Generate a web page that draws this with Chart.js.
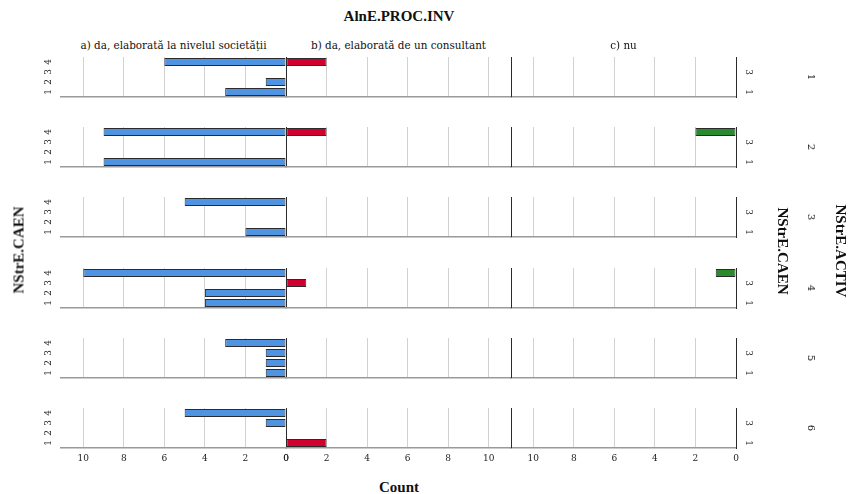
<!DOCTYPE html>
<html>
<head>
<meta charset="utf-8">
<script src="https://cdn.jsdelivr.net/npm/chart.js@4.4.1/dist/chart.umd.min.js"></script>
<style>
  html, body { margin: 0; padding: 0; background: #fff; }
  #wrap { position: relative; width: 848px; height: 494px; overflow: hidden; }
  .row { position: absolute; left: 0; width: 848px; }
  .t { position: absolute; white-space: nowrap; color: #111; line-height: 1; }
  .serif { font-family: "DejaVu Serif", serif; }
  .bold { font-family: "Liberation Serif", "Times New Roman", serif; font-weight: bold; font-size: 15px; }
</style>
</head>
<body>
<div id="wrap"></div>
<script>
// ---- data -------------------------------------------------------------
const chartTitle = 'AlnE.PROC.INV';
const columnLabels = ['a) da, elaborată la nivelul societății', 'b) da, elaborată de un consultant', 'c) nu'];
const rowVariable = 'NStrE.ACTIV';
const categoryVariable = 'NStrE.CAEN';
const valueTitle = 'Count';
const rowLabels = ['1', '2', '3', '4', '5', '6'];          // NStrE.ACTIV
const caenCategories = ['1', '2', '3', '4'];                // NStrE.CAEN
const countTicks = [0, 2, 4, 6, 8, 10];
// counts per NStrE.ACTIV row, in CAEN order 1..4
const countsA = [[3, 1, 0, 6], [9, 0, 0, 9], [2, 0, 0, 5], [4, 4, 0, 10], [1, 1, 1, 3], [0, 0, 1, 5]];
const countsB = [[0, 0, 0, 2], [0, 0, 0, 2], [0, 0, 0, 0], [0, 0, 1, 0], [0, 0, 0, 0], [2, 0, 0, 0]];
const countsC = [[0, 0, 0, 0], [0, 0, 0, 2], [0, 0, 0, 0], [0, 0, 0, 1], [0, 0, 0, 0], [0, 0, 0, 0]];

// ---- layout & style ---------------------------------------------------
const COUNT_MAX = 11.1;
const PLOT_LEFT = 61, PLOT_RIGHT = 736, W = 848;
const ROW_TOPS = [57, 127, 197, 268, 338, 408];
const PANEL_H = 40;
const COLORS = ['#4f93e3', '#d2002e', '#2c8a2e'];
const GRID_LIGHT = '#d2d2d2', DARK = '#2b2b2b', AXIS_GRAY = '#9a9a9a';
const TICK_FONT = { family: 'DejaVu Serif', size: 9 };

const wrap = document.getElementById('wrap');

function addText(txt, cls, x, y, rot, size) {
  const d = document.createElement('div');
  d.className = 't ' + cls;
  d.textContent = txt;
  if (size) d.style.fontSize = size + 'px';
  d.style.left = x + 'px';
  d.style.top = y + 'px';
  d.style.transform = 'translate(-50%, -50%)' + (rot ? ' rotate(' + rot + 'deg)' : '');
  wrap.appendChild(d);
}

// vertical divider between the second and third column
const dividerPlugin = {
  id: 'divider',
  afterDatasetsDraw(chart) {
    const { ctx, chartArea } = chart;
    const x = Math.round(chart.scales.xc.left) + 0.5;
    ctx.save();
    ctx.strokeStyle = DARK;
    ctx.lineWidth = 1;
    ctx.beginPath();
    ctx.moveTo(x, chartArea.top);
    ctx.lineTo(x, chartArea.bottom);
    ctx.stroke();
    ctx.restore();
  }
};

function countAxis(reverse, showTicks) {
  return {
    type: 'linear',
    position: 'bottom',
    stack: 'columns',
    stackWeight: 1,
    reverse: reverse,
    min: 0,
    max: COUNT_MAX,
    afterBuildTicks: s => { s.ticks = countTicks.map(v => ({ value: v })); },
    afterFit: s => { s.height = showTicks ? 22 : 3; s.paddingLeft = 0; s.paddingRight = 0; },
    grid: {
      drawTicks: false,
      color: c => (c.tick && c.tick.value === 0 ? DARK : GRID_LIGHT),
      lineWidth: 1
    },
    border: { display: true, color: AXIS_GRAY, width: 1.5 },
    ticks: { display: showTicks, font: TICK_FONT, color: '#222', padding: 5, maxRotation: 0, autoSkip: false }
  };
}

// category axis shared settings (labels turned sideways)
function caenAxis(position, rotation, width, extra) {
  return Object.assign({
    type: 'category',
    position: position,
    reverse: true,
    afterFit: s => { s.width = width; s.paddingTop = 0; s.paddingBottom = 0; },
    grid: { display: false, drawTicks: false },
    ticks: { font: TICK_FONT, color: '#222', minRotation: rotation, maxRotation: rotation, crossAlign: 'center', padding: 9, autoSkip: false }
  }, extra);
}

function toBars(arr) { return arr.map(v => (v === 0 ? null : v)); }

ROW_TOPS.forEach((top, i) => {
  const last = i === ROW_TOPS.length - 1;
  const padTop = 4;
  const bottomH = last ? 22 : 3;
  const holder = document.createElement('div');
  holder.className = 'row';
  holder.style.top = (top - padTop) + 'px';
  holder.style.height = (padTop + PANEL_H + bottomH) + 'px';
  const cv = document.createElement('canvas');
  holder.appendChild(cv);
  wrap.appendChild(holder);

  const common = {
    barPercentage: 0.82,
    categoryPercentage: 1,
    grouped: false,
    borderColor: DARK,
    borderWidth: 1,
    borderSkipped: false,
    yAxisID: 'y'
  };

  const yRight = caenAxis('right', -90, W - PLOT_RIGHT, { border: { display: true, color: DARK, width: 1 } });
  yRight.ticks.callback = function (v) { const l = this.getLabelForValue(v); return (l === '1' || l === '3') ? l : ''; };

  new Chart(cv, {
    type: 'bar',
    data: {
      labels: caenCategories,
      datasets: [
        Object.assign({ label: columnLabels[0], data: toBars(countsA[i]), backgroundColor: COLORS[0], xAxisID: 'xa' }, common),
        Object.assign({ label: columnLabels[1], data: toBars(countsB[i]), backgroundColor: COLORS[1], xAxisID: 'xb' }, common),
        Object.assign({ label: columnLabels[2], data: toBars(countsC[i]), backgroundColor: COLORS[2], xAxisID: 'xc' }, common)
      ]
    },
    options: {
      indexAxis: 'y',
      responsive: true,
      maintainAspectRatio: false,
      animation: false,
      events: [],
      layout: { padding: { top: padTop, left: 0, right: 0, bottom: 0 } },
      plugins: { legend: { display: false }, tooltip: { enabled: false } },
      scales: {
        xa: countAxis(true, last),
        xb: countAxis(false, last),
        xc: countAxis(true, last),
        y: caenAxis('left', 90, PLOT_LEFT, { border: { display: false } }),
        yr: yRight
      }
    },
    plugins: [dividerPlugin]
  });

  // panel label on the right (NStrE.ACTIV value)
  addText(rowLabels[i], 'serif', 810.5, top + PANEL_H / 2, 90, 10);
});

// titles and headers
addText(chartTitle, 'bold', 399, 16, 0);
const colW = (PLOT_RIGHT - PLOT_LEFT) / 3;
columnLabels.forEach((lab, k) => addText(lab, 'serif', PLOT_LEFT + colW * (k + 0.5), 45, 0, 10.4));
addText(categoryVariable, 'bold', 19, 250, -90);
addText(categoryVariable, 'bold', 782, 251, 90);
addText(rowVariable, 'bold', 839.5, 251, 90);
addText(valueTitle, 'bold', 399, 487, 0);
</script>
</body>
</html>
